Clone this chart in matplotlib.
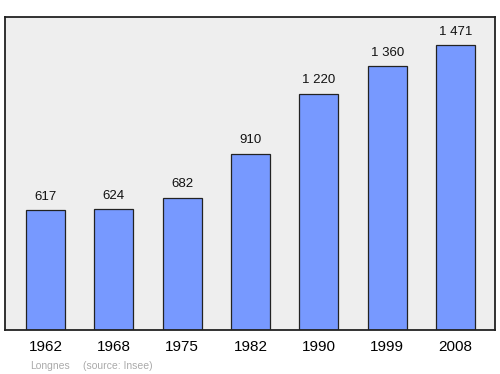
import matplotlib
matplotlib.use('Agg')
import matplotlib.pyplot as plt

plt.rcParams['font.family'] = ['Liberation Sans', 'DejaVu Sans']

years = ['1962', '1968', '1975', '1982', '1990', '1999', '2008']
population = [617, 624, 682, 910, 1220, 1360, 1471]
labels = ['617', '624', '682', '910', '1 220', '1 360', '1 471']

fig = plt.figure(figsize=(5, 3.74), dpi=100)
ax = fig.add_axes([0.01, 0.1176, 0.98, 0.837])
ax.set_facecolor('#eeeeee')

x = list(range(len(years)))
ax.bar(x, population, width=0.575, color='#7799ff', edgecolor='#222222', linewidth=0.9)
for xi, v, lab in zip(x, population, labels):
    ax.text(xi, v + 38, lab, ha='center', va='bottom', fontsize=9.5, color='#111111')

ax.set_xlim(-0.593, 6.578)
ax.set_ylim(0, 1615)
ax.set_yticks([])
ax.set_xticks(x)
ax.set_xticklabels(years, fontsize=11)
ax.tick_params(axis='x', length=0, pad=7)
for s in ax.spines.values():
    s.set_linewidth(1.3)
    s.set_color('#222222')

fig.text(0.06, 0.013, 'Longnes', fontsize=7.5, color='#aaaaaa')
fig.text(0.166, 0.013, '(source: Insee)', fontsize=7.5, color='#aaaaaa')

fig.savefig('out.png', dpi=100)
